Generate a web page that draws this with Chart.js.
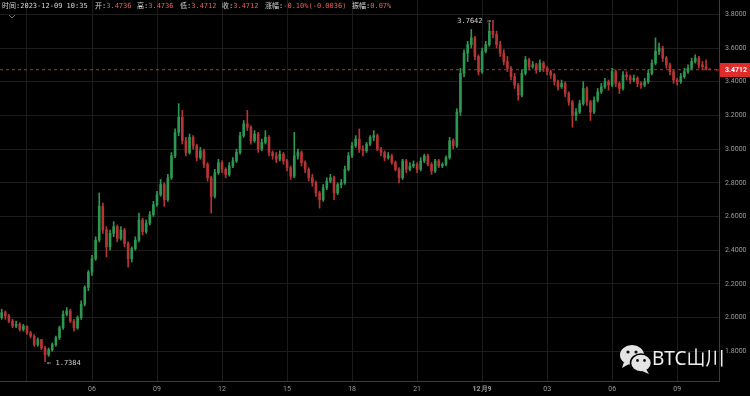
<!DOCTYPE html>
<html><head><meta charset="utf-8">
<script src="https://cdn.jsdelivr.net/npm/chart.js@4"></script>
<style>
html,body{margin:0;padding:0;background:#000;overflow:hidden;}
#wrap{position:relative;width:750px;height:396px;background:#000;}
canvas{display:block;}
.hd{position:absolute;top:1px;font-size:7px;line-height:10px;font-family:"DejaVu Sans Mono","Noto Sans CJK SC",monospace;color:#d6d6d6;white-space:pre;}
.hd b{font-weight:normal;color:#e0625c;}
#wm{position:absolute;left:652px;top:349px;font-family:"Noto Sans","Noto Sans CJK SC",sans-serif;font-size:19px;line-height:19px;color:#eeeeee;white-space:pre;}
</style></head>
<body>
<div id="wrap">
<canvas id="c" width="750" height="396"></canvas>
<div class="hd" style="left:2px">时间:2023-12-09 10:35</div>
<div class="hd" style="left:95px">开:<b>3.4736</b></div>
<div class="hd" style="left:137px">高:<b>3.4736</b></div>
<div class="hd" style="left:180px">低:<b>3.4712</b></div>
<div class="hd" style="left:222px">收:<b>3.4712</b></div>
<div class="hd" style="left:265px">涨幅:<b>-0.10%(-0.0036)</b></div>
<div class="hd" style="left:352px">振幅:<b>0.07%</b></div>
<svg style="position:absolute;left:8px;top:14px" width="8" height="6"><polyline points="1,1 4,4 7,1" fill="none" stroke="#777" stroke-width="1"/></svg>
<svg style="position:absolute;left:619px;top:343px" width="34" height="32" viewBox="0 0 34 32">
  <ellipse cx="13" cy="12" rx="12" ry="10" fill="#e4e4e4"/>
  <path d="M5 19 L3 25 L10 21 Z" fill="#e4e4e4"/>
  <circle cx="9" cy="9" r="1.6" fill="#111"/><circle cx="17" cy="9" r="1.6" fill="#111"/>
  <ellipse cx="22" cy="20" rx="10.5" ry="9" fill="#e4e4e4" stroke="#000" stroke-width="1.6"/>
  <path d="M27 26 L30 31 L23 28 Z" fill="#e4e4e4"/>
  <circle cx="18.5" cy="17.5" r="1.4" fill="#111"/><circle cx="25.5" cy="17.5" r="1.4" fill="#111"/>
</svg>
<div id="wm">BTC山川</div>
</div>
<script>
// ---- data (10-minute candles, 2023-12-08 01:50 → 2023-12-09 10:30) ----
const open = [
2.00,2.03,2.01,1.98,1.95,1.96,1.93,1.95,1.91,1.89,
1.84,1.87,1.82,1.78,1.81,1.84,1.88,1.94,2.02,2.04,
1.98,1.94,2.00,2.08,2.18,2.27,2.35,2.46,2.66,2.52,
2.42,2.50,2.54,2.47,2.52,2.44,2.35,2.41,2.46,2.58,
2.51,2.56,2.61,2.67,2.73,2.79,2.70,2.83,2.96,3.10,
3.19,3.05,2.98,3.07,3.02,2.95,2.99,2.91,2.83,2.72,
2.86,2.92,2.88,2.85,2.90,2.93,2.98,3.08,3.15,3.13,
3.05,3.09,3.00,3.04,3.07,2.98,2.96,2.94,2.97,2.93,
2.89,2.84,2.96,2.98,2.92,2.88,2.83,2.80,2.74,2.70,
2.77,2.81,2.83,2.74,2.79,2.80,2.88,2.96,3.02,3.06,
3.00,2.99,3.03,3.07,3.08,3.00,2.98,2.95,2.96,2.92,
2.88,2.83,2.93,2.88,2.90,2.91,2.88,2.93,2.96,2.91,
2.87,2.93,2.90,2.91,2.95,3.05,3.02,3.22,3.45,3.57,
3.62,3.66,3.55,3.46,3.58,3.62,3.70,3.68,3.62,3.57,
3.52,3.48,3.43,3.38,3.32,3.45,3.53,3.49,3.50,3.47,
3.51,3.48,3.46,3.44,3.40,3.37,3.39,3.33,3.28,3.20,
3.22,3.27,3.36,3.28,3.22,3.29,3.34,3.37,3.40,3.38,
3.46,3.39,3.36,3.44,3.43,3.41,3.42,3.39,3.38,3.40,
3.45,3.51,3.58,3.60,3.54,3.50,3.46,3.41,3.40,3.43,
3.46,3.48,3.52,3.54,3.50,3.49,3.4736];
const high = [
2.05,2.04,2.02,1.99,1.98,1.97,1.96,1.95,1.92,1.90,
1.88,1.87,1.83,1.82,1.85,1.89,1.95,2.04,2.06,2.05,
1.99,2.01,2.10,2.19,2.28,2.37,2.48,2.74,2.68,2.54,
2.52,2.57,2.55,2.54,2.53,2.45,2.42,2.48,2.62,2.59,
2.58,2.63,2.69,2.75,2.82,2.80,2.85,2.98,3.12,3.27,
3.23,3.07,3.09,3.08,3.03,3.01,3.00,2.92,2.84,2.88,
2.94,2.93,2.89,2.92,2.95,3.00,3.10,3.17,3.23,3.14,
3.11,3.10,3.06,3.11,3.08,2.99,2.98,2.99,2.98,2.94,
2.90,3.10,3.00,2.99,2.93,2.89,2.85,2.81,2.75,2.79,
2.83,2.85,2.84,2.80,2.82,2.90,2.98,3.04,3.08,3.12,
3.02,3.04,3.08,3.11,3.09,3.01,2.99,2.98,2.97,2.93,
2.89,2.94,2.94,2.92,2.93,2.92,2.95,2.97,2.97,2.92,
2.94,2.94,2.92,2.96,3.07,3.06,3.24,3.48,3.59,3.64,
3.71,3.67,3.56,3.60,3.64,3.75,3.7642,3.70,3.64,3.59,
3.55,3.49,3.45,3.39,3.47,3.55,3.54,3.52,3.51,3.53,
3.52,3.49,3.47,3.45,3.41,3.41,3.40,3.34,3.29,3.24,
3.29,3.40,3.37,3.29,3.31,3.36,3.39,3.42,3.41,3.48,
3.47,3.40,3.46,3.46,3.44,3.44,3.43,3.40,3.42,3.47,
3.53,3.66,3.63,3.61,3.55,3.51,3.47,3.42,3.45,3.48,
3.50,3.54,3.56,3.55,3.52,3.53,3.4736];
const low = [
1.99,1.99,1.97,1.94,1.94,1.92,1.92,1.90,1.88,1.83,
1.83,1.81,1.7384,1.77,1.80,1.83,1.87,1.93,2.01,1.97,
1.92,1.93,1.99,2.07,2.16,2.25,2.34,2.45,2.50,2.36,
2.40,2.48,2.45,2.46,2.42,2.30,2.33,2.40,2.45,2.49,
2.50,2.55,2.60,2.66,2.72,2.66,2.69,2.82,2.95,3.08,
3.03,2.96,2.97,3.00,2.93,2.94,2.89,2.81,2.62,2.71,
2.85,2.86,2.83,2.84,2.89,2.92,2.97,3.07,3.11,3.03,
3.04,2.98,2.99,3.03,2.96,2.94,2.92,2.93,2.91,2.87,
2.82,2.83,2.94,2.90,2.86,2.81,2.78,2.72,2.65,2.69,
2.76,2.80,2.70,2.73,2.77,2.79,2.87,2.95,3.01,2.98,
2.96,2.98,3.02,3.05,2.99,2.96,2.93,2.94,2.91,2.87,
2.80,2.82,2.86,2.87,2.89,2.86,2.87,2.92,2.90,2.85,
2.86,2.89,2.89,2.90,2.94,3.00,3.01,3.20,3.43,3.52,
3.60,3.53,3.44,3.45,3.57,3.61,3.66,3.60,3.55,3.50,
3.46,3.41,3.36,3.29,3.31,3.44,3.47,3.48,3.45,3.46,
3.46,3.44,3.42,3.38,3.35,3.36,3.31,3.26,3.13,3.17,
3.21,3.26,3.26,3.17,3.21,3.28,3.33,3.36,3.35,3.37,
3.37,3.33,3.35,3.41,3.39,3.40,3.37,3.36,3.37,3.39,
3.44,3.50,3.56,3.52,3.48,3.44,3.39,3.38,3.39,3.42,
3.45,3.47,3.51,3.48,3.47,3.47,3.4712];
const close = [
2.03,2.01,1.98,1.95,1.96,1.93,1.95,1.91,1.89,1.84,
1.87,1.82,1.78,1.81,1.84,1.88,1.94,2.02,2.04,1.98,
1.94,2.00,2.08,2.18,2.27,2.35,2.46,2.66,2.52,2.42,
2.50,2.54,2.47,2.52,2.44,2.35,2.41,2.46,2.58,2.51,
2.56,2.61,2.67,2.73,2.79,2.70,2.83,2.96,3.10,3.19,
3.05,2.98,3.07,3.02,2.95,2.99,2.91,2.83,2.72,2.86,
2.92,2.88,2.85,2.90,2.93,2.98,3.08,3.15,3.13,3.05,
3.09,3.00,3.04,3.07,2.98,2.96,2.94,2.97,2.93,2.89,
2.84,2.96,2.98,2.92,2.88,2.83,2.80,2.74,2.70,2.77,
2.81,2.83,2.74,2.79,2.80,2.88,2.96,3.02,3.06,3.00,
2.99,3.03,3.07,3.08,3.00,2.98,2.95,2.96,2.92,2.88,
2.83,2.93,2.88,2.90,2.91,2.88,2.93,2.96,2.91,2.87,
2.93,2.90,2.91,2.95,3.05,3.02,3.22,3.45,3.57,3.62,
3.66,3.55,3.46,3.58,3.62,3.70,3.68,3.62,3.57,3.52,
3.48,3.43,3.38,3.32,3.45,3.53,3.49,3.50,3.47,3.51,
3.48,3.46,3.44,3.40,3.37,3.39,3.33,3.28,3.20,3.22,
3.27,3.36,3.28,3.22,3.29,3.34,3.37,3.40,3.38,3.46,
3.39,3.36,3.44,3.43,3.41,3.42,3.39,3.38,3.40,3.45,
3.51,3.58,3.60,3.54,3.50,3.46,3.41,3.40,3.43,3.46,
3.48,3.52,3.54,3.50,3.49,3.4736,3.4712];
// hours since 2023-12-08 00:00, one per candle (10-minute bars from 01:50)
const startHour = 11/6, stepHour = 1/6;
const times = open.map((_, i) => startHour + i * stepHour);
const xTickHours  = [3, 6, 9, 12, 15, 18, 21, 24, 27, 30, 33];
const xTickLabels = ['', '06', '09', '12', '15', '18', '21', '12月9', '03', '06', '09'];
const yTicks = [1.8, 2.0, 2.2, 2.4, 2.6, 2.8, 3.0, 3.2, 3.4, 3.6, 3.8];

const X_MIN = 1.755, X_MAX = 34.93, Y_MIN = 1.624, Y_MAX = 3.885;
const UP = '#2e9650', DN = '#b53434';
const last = close[close.length - 1];
const colorFn = c => close[c.dataIndex] >= open[c.dataIndex] ? UP : DN;

const overlay = {
  id: 'overlay',
  afterDatasetsDraw(chart) {
    const { ctx, scales: { x, y } } = chart;
    let hi = 0, lo = 0;
    high.forEach((v, i) => { if (v > high[hi]) hi = i; });
    low.forEach((v, i) => { if (v < low[lo]) lo = i; });
    ctx.save();
    ctx.font = '7px "DejaVu Sans Mono", monospace';
    ctx.fillStyle = '#cfcfcf';
    ctx.textBaseline = 'middle';
    ctx.textAlign = 'right';
    ctx.fillText(high[hi].toFixed(4) + ' →', x.getPixelForValue(times[hi]) - 2, y.getPixelForValue(high[hi]) + 1);
    ctx.textAlign = 'left';
    ctx.fillText('← ' + low[lo].toFixed(4), x.getPixelForValue(times[lo]) + 2, y.getPixelForValue(low[lo]) + 1);
    ctx.restore();
  },
  afterDraw(chart) {
    const { ctx, scales: { y }, chartArea } = chart;
    const py = Math.round(y.getPixelForValue(last));
    ctx.save();
    ctx.fillStyle = '#e02b2b';
    ctx.fillRect(chartArea.right + 1, py - 7, 750 - chartArea.right - 1, 14);
    ctx.fillRect(chartArea.right - 3, py - 0.5, 3, 1);
    ctx.fillStyle = '#ffffff';
    ctx.font = 'bold 7px Roboto, sans-serif';
    ctx.textBaseline = 'middle';
    ctx.textAlign = 'left';
    ctx.fillText(last.toFixed(4), chartArea.right + 6, py + 0.5);
    ctx.restore();
  }
};

new Chart(document.getElementById('c'), {
  type: 'bar',
  data: {
    datasets: [
      { type: 'line', data: [{ x: X_MIN, y: last }, { x: X_MAX, y: last }], borderColor: '#b3302d',
        borderWidth: 1, borderDash: [3, 3], pointRadius: 0, order: 3 },
      { data: times.map((t, i) => ({ x: t, y: [low[i], high[i]] })), backgroundColor: colorFn,
        barThickness: 1, grouped: false, order: 2 },
      { data: times.map((t, i) => ({ x: t, y: [open[i], close[i]] })), backgroundColor: colorFn,
        barThickness: 2, grouped: false, minBarLength: 1, order: 1 }
    ]
  },
  options: {
    responsive: false, animation: false, devicePixelRatio: 1,
    layout: { padding: 0 },
    plugins: { legend: { display: false }, tooltip: { enabled: false } },
    scales: {
      x: {
        type: 'linear', min: X_MIN, max: X_MAX, offset: false,
        afterBuildTicks: s => { s.ticks = xTickHours.map(v => ({ value: v })); },
        afterFit: s => { s.height = 15; s.paddingLeft = 0; s.paddingRight = 0; },
        ticks: { callback: (v, i) => xTickLabels[i], color: '#9c9c9c', autoSkip: false, maxRotation: 0, padding: 4,
          font: c => ({ size: 7, family: 'Roboto, sans-serif', weight: (c.tick && c.tick.value === 24) ? 'bold' : 'normal' }) },
        grid: { color: '#1c1c1c', drawTicks: false, offset: false },
        border: { color: '#3c3c3c' }
      },
      y: {
        position: 'right', min: Y_MIN, max: Y_MAX,
        afterBuildTicks: s => { s.ticks = yTicks.map(v => ({ value: v })); },
        afterFit: s => { s.width = 31; s.paddingTop = 0; s.paddingBottom = 0; },
        ticks: { callback: v => Number(v).toFixed(4), color: '#9c9c9c', padding: 6, font: { size: 7, family: 'Roboto, sans-serif' } },
        grid: { color: '#1c1c1c', drawTicks: false },
        border: { color: '#3c3c3c' }
      }
    }
  },
  plugins: [overlay]
});
</script>
</body></html>
